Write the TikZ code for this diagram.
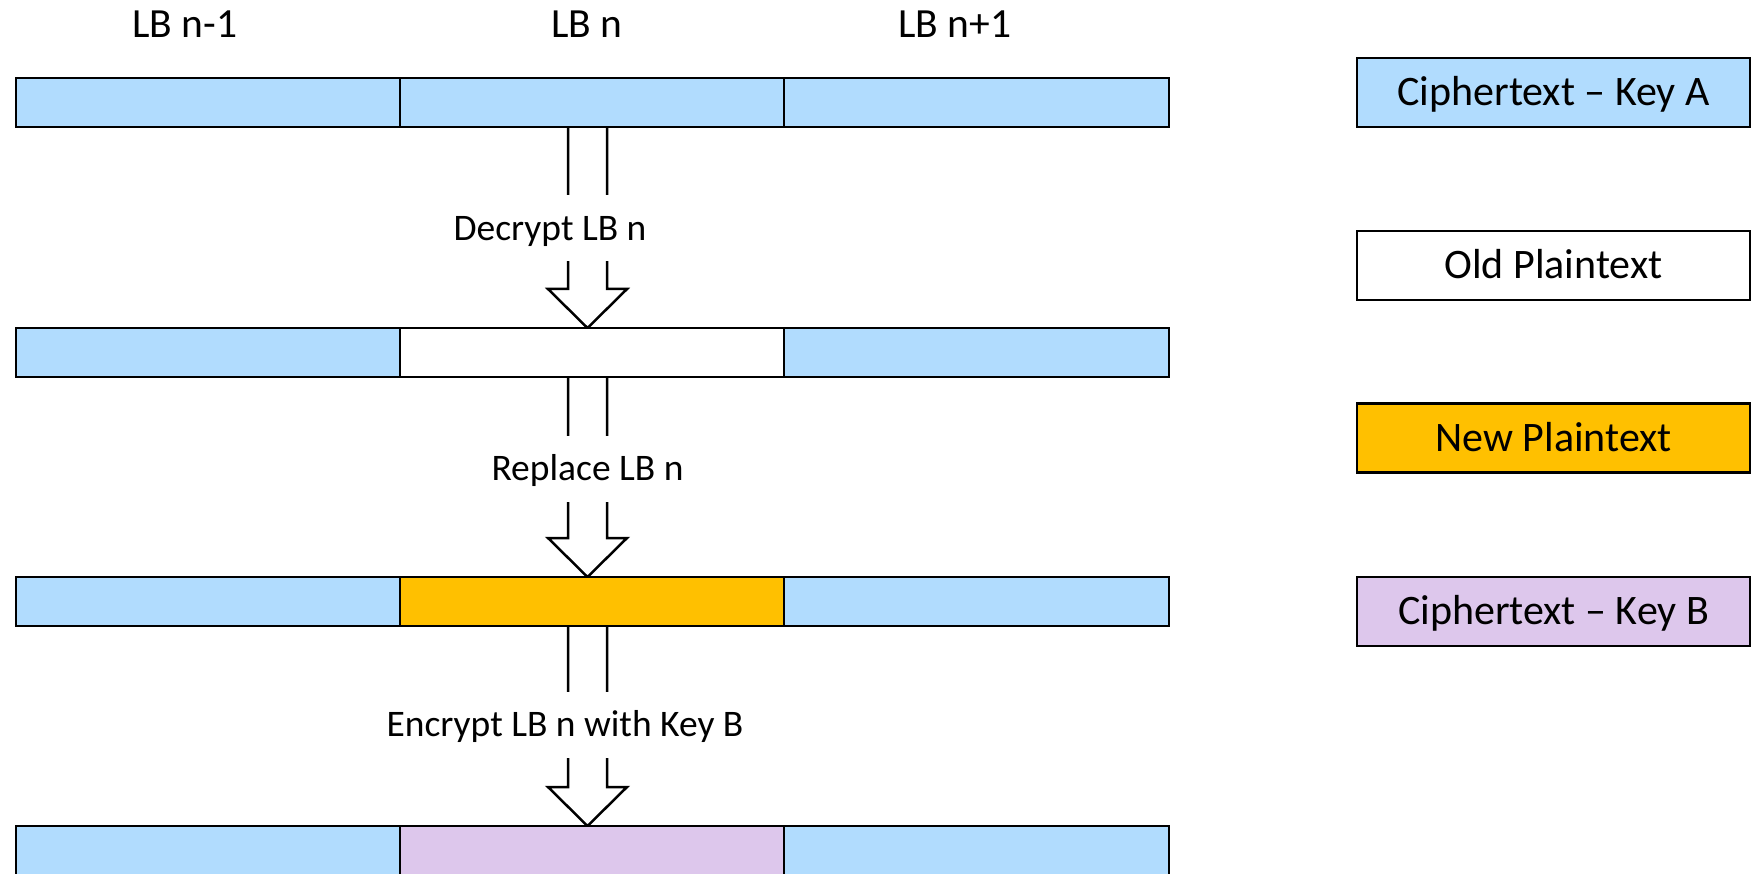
\documentclass[tikz,border=0pt]{standalone}
\usepackage{fontspec}
\setmainfont{Carlito}
\usetikzlibrary{calc}
\definecolor{keyA}{HTML}{B1DCFE}
\definecolor{newpt}{HTML}{FFC000}
\definecolor{keyB}{HTML}{DDC7EC}
\newcommand\blockarr[2]{\draw[blockarrow] ($(#1.south)+(-24,0)$) -- ($(#2.north)+(-24,-39)$) -- ($(#2.north)+(-44,-39)$) -- ($(#2.north)+(-4.5,0)$) -- ($(#2.north)+(35,-39)$) -- ($(#2.north)+(15,-39)$) -- ($(#1.south)+(15,0)$);}
\begin{document}
\begin{tikzpicture}[x=1pt,y=-1pt,
  seg/.style={draw, line width=2.5pt, minimum height=49pt, inner sep=0pt, outer sep=0pt, anchor=north west},
  lgd/.style={draw, line width=2.5pt, minimum width=393pt, minimum height=69pt, inner sep=0pt, outer sep=0pt, font=\fontsize{42}{50}\selectfont, text height=26.5pt, text depth=0pt},
  toplbl/.style={font=\fontsize{41.5}{50}\selectfont, anchor=base, inner sep=0pt},
  steplbl/.style={fill=white, font=\fontsize{37.5}{45}\selectfont, text height=23.6pt, text depth=0pt, minimum height=66pt, inner xsep=2pt, inner ysep=0pt},
  blockarrow/.style={draw, line width=2.5pt, line join=miter}]
\useasboundingbox (0,0) rectangle (1755,874);

% top labels
\node[toplbl] (t1) at (185,38) {LB n-1};
\node[toplbl] (t2) at (587,38) {LB n};
\node[toplbl] (t3) at (955,38) {LB n+1};

% invisible anchors for the arrows (drawn first, bars on top)
\node[seg, minimum width=384pt, draw=none] (r1b) at (400,78) {};
\node[seg, minimum width=384pt, draw=none] (r2b) at (400,328) {};
\node[seg, minimum width=384pt, draw=none] (r3b) at (400,577) {};
\node[seg, minimum width=384pt, draw=none] (r4b) at (400,826) {};
\blockarr{r1b}{r2b}
\blockarr{r2b}{r3b}
\blockarr{r3b}{r4b}

% row 1
\node[seg, fill=keyA, minimum width=384pt] (r1a) at (16,78) {};
\node[seg, fill=keyA, minimum width=384pt] (r1bb) at (400,78) {};
\node[seg, fill=keyA, minimum width=385pt] (r1c) at (784,78) {};
% row 2
\node[seg, fill=keyA, minimum width=384pt] (r2a) at (16,328) {};
\node[seg, fill=white, minimum width=384pt] (r2bb) at (400,328) {};
\node[seg, fill=keyA, minimum width=385pt] (r2c) at (784,328) {};
% row 3
\node[seg, fill=keyA, minimum width=384pt] (r3a) at (16,577) {};
\node[seg, fill=newpt, minimum width=384pt] (r3bb) at (400,577) {};
\node[seg, fill=keyA, minimum width=385pt] (r3c) at (784,577) {};
% row 4
\node[seg, fill=keyA, minimum width=384pt] (r4a) at (16,826) {};
\node[seg, fill=keyB, minimum width=384pt] (r4bb) at (400,826) {};
\node[seg, fill=keyA, minimum width=385pt] (r4c) at (784,826) {};

% step labels
\node[steplbl] (s1) at (550,228.5) {Decrypt LB n};
\node[steplbl] (s2) at (587.5,469) {Replace LB n};
\node[steplbl] (s3) at (565,725) {Encrypt LB n with Key B};

% legend
\node[lgd, fill=keyA] (lgA) at (1553.5,92.5) {Ciphertext – Key A};
\node[lgd, fill=white] (lgOld) at (1553.5,265.5) {Old Plaintext};
\node[lgd, fill=newpt] (lgNew) at (1553.5,438) {New Plaintext};
\node[lgd, fill=keyB] (lgB) at (1553.5,611.5) {Ciphertext – Key B};
\end{tikzpicture}
\end{document}
